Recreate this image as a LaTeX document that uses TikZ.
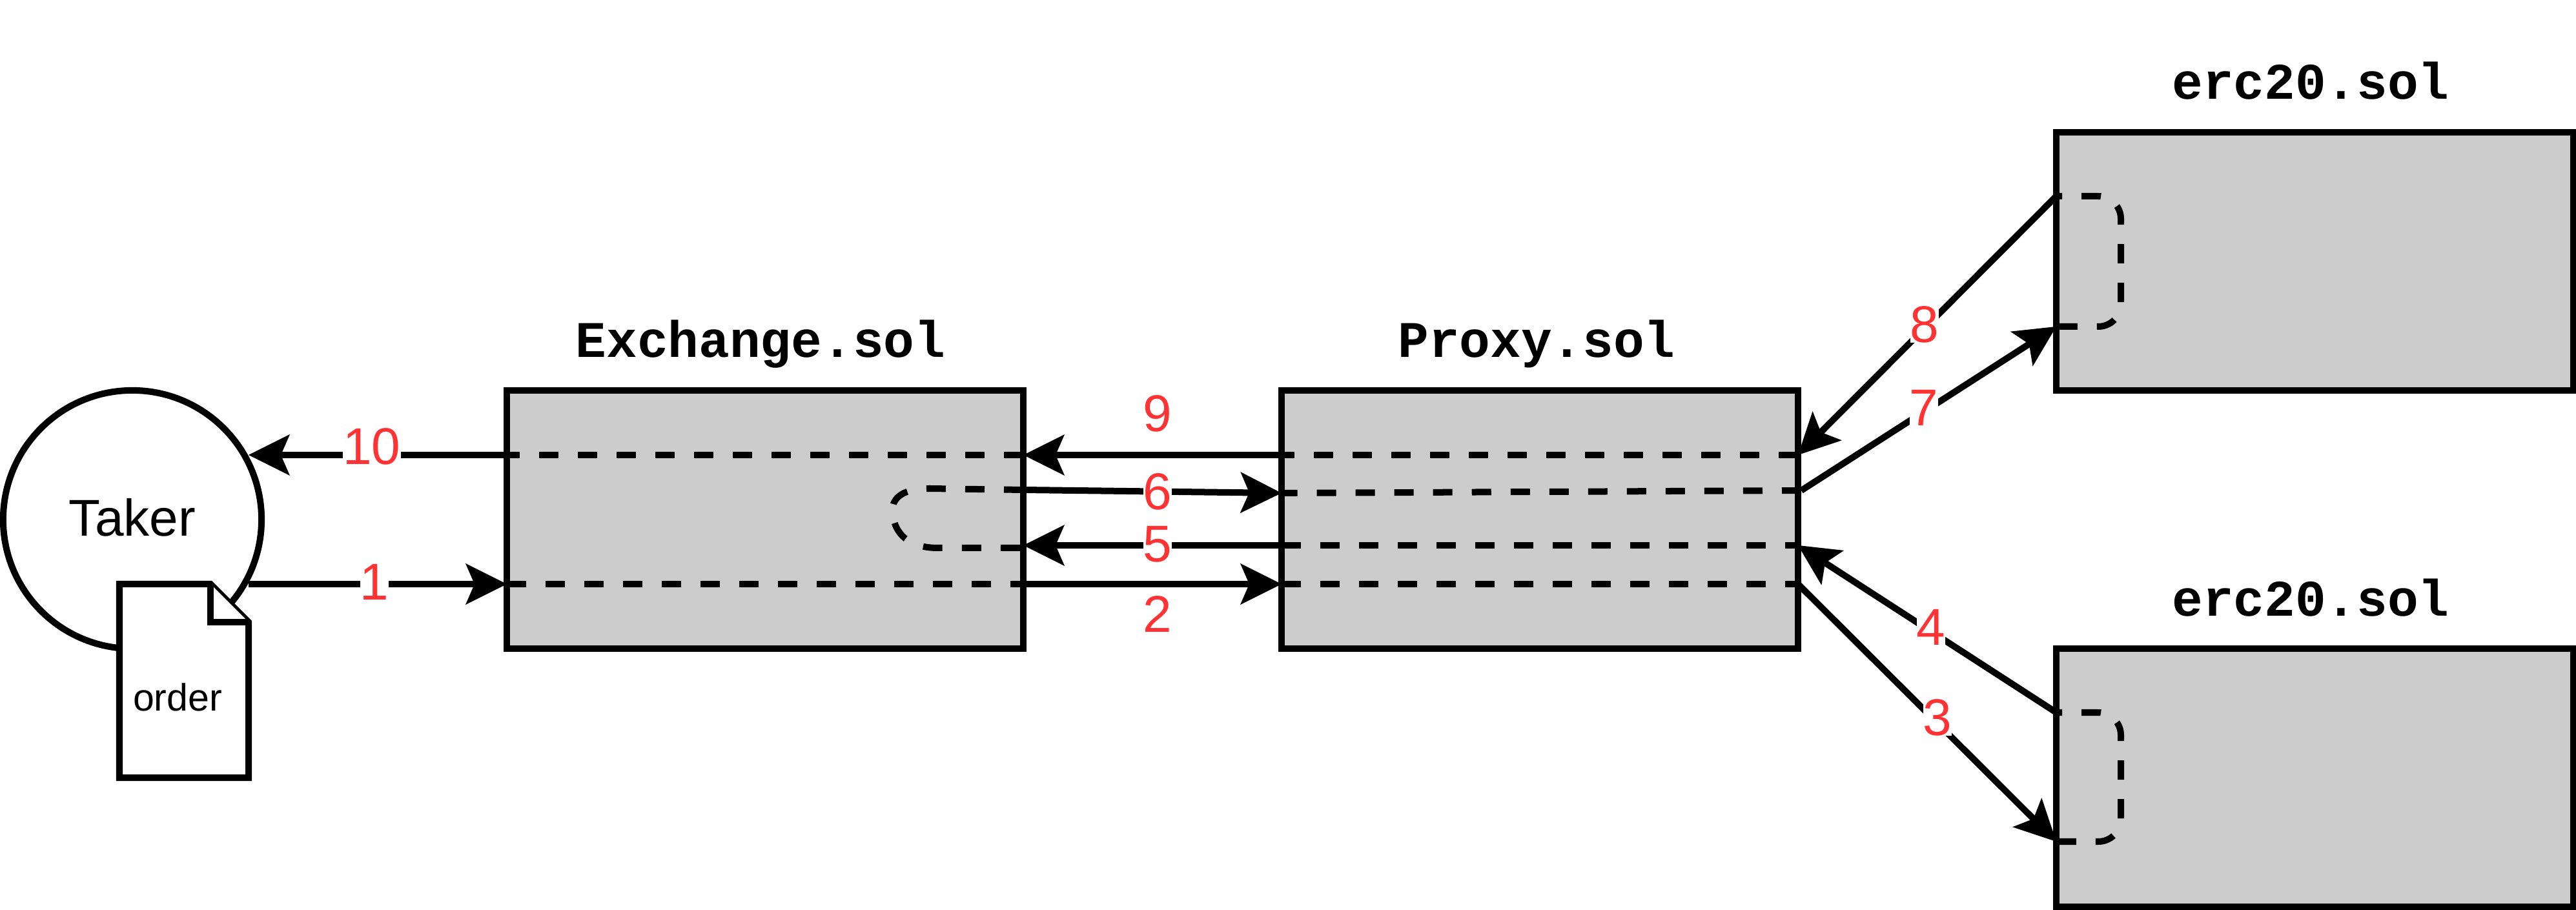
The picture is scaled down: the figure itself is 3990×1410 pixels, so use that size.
\documentclass[tikz,border=0pt]{standalone}
\usepackage{fontspec}
\setmainfont{Liberation Sans}
\newfontfamily\codefont{Liberation Mono}
\usepackage{tikz}
\usetikzlibrary{arrows.meta, positioning, calc}

\definecolor{contractgray}{HTML}{CCCCCC}
\definecolor{steplabel}{HTML}{FF3333}

\begin{document}
\begin{tikzpicture}[
    x=0.01cm, y=-0.01cm,
    line width=1mm,
    font=\fontsize{22.8}{27}\selectfont,
    contract/.style={rectangle, draw=black, fill=contractgray, minimum width=8cm, minimum height=4cm, inner sep=0pt, outer sep=0pt, anchor=north west},
    actor/.style={circle, draw=black, fill=white, minimum size=4cm, inner sep=0pt, outer sep=0pt},
    title/.style={font=\fontsize{22.6}{27}\selectfont\codefont\bfseries, inner sep=0pt, anchor=base},
    steplbl/.style={text=steplabel, fill=white, inner sep=0pt},
    arrow/.style={-{Stealth[length=6.4mm, width=6.4mm, inset=1.4mm, line width=0pt]}},
    inner/.style={dash pattern=on 3mm off 3mm},
    doc/.style={draw=black, fill=white, miter limit=10}
]
\useasboundingbox (0,0) rectangle (3990,1410);

\node[actor] (taker) at (205,805) {};
\node[inner sep=0pt] (takerlbl) at (205,802) {Taker};

\draw[doc] (185,905) -- (326,905) -- (385,964) -- (385,1205) -- (185,1205) -- cycle;
\draw[doc] (326,905) -- (326,964) -- (385,964);
\node[inner sep=0pt, font=\fontsize{16.8}{20}\selectfont] (order) at (275,1080) {order};

\node[contract] (exchange) at (785,605) {};
\node[contract] (proxy) at (1985,605) {};
\node[contract] (ercA) at (3185,205) {};
\node[contract] (ercB) at (3185,1005) {};

\node[title] (exchangelbl) at (1178,554) {Exchange.sol};
\node[title] (proxylbl) at (2380,554) {Proxy.sol};
\node[title] (ercAlbl) at (3579,154) {erc20.sol};
\node[title] (ercBlbl) at (3579,955) {erc20.sol};

\coordinate (takerout) at (385,905);
\coordinate (takerin) at (385,705);
\coordinate (exL1) at (785,905);
\coordinate (exL2) at (785,705);
\coordinate (exR1) at (1585,905);
\coordinate (exR2) at (1585,705);
\coordinate (exR3) at (1585,759);
\coordinate (exR4) at (1585,845);
\coordinate (exR5) at (1585,849);
\coordinate (prL1) at (1985,905);
\coordinate (prL2) at (1985,705);
\coordinate (prL3) at (1985,764);
\coordinate (prL4) at (1985,845);
\coordinate (prR1) at (2785,905);
\coordinate (prR2) at (2785,705);
\coordinate (prR3) at (2790,760);
\coordinate (prR4) at (2785,845);
\coordinate (ercAin) at (3185,506);
\coordinate (ercAout) at (3185,304);
\coordinate (ercBin) at (3185,1304);
\coordinate (ercBout) at (3185,1104);

\draw[inner] (exL1) -- (exR1);
\draw[inner] (exR2) -- (exL2);
\draw[inner] (exR3) -- (1440,757) .. controls (1400,757) and (1382,770) .. (1382,792) .. controls (1385,830) and (1410,848) .. (1450,849) -- (exR5);
\draw[inner] (prL1) -- (prR1);
\draw[inner] (prR2) -- (prL2);
\draw[inner] (prR3) -- (prL3);
\draw[inner] (prL4) -- (prR4);
\draw[inner, dash phase=2.1mm, rounded corners=3.5mm] (ercAout) -| (3285,405) |- (ercAin);
\draw[inner, dash phase=2.1mm, rounded corners=3.5mm] (ercBout) -| (3285,1205) |- (ercBin);

\draw[arrow] (takerout) -- (exL1);
\draw[arrow] (exR1) -- (prL1);
\draw[arrow] (prR1) -- (ercBin);
\draw[arrow] (ercBout) -- (prR4);
\draw[arrow] (prL4) -- (exR4);
\draw[arrow] (exR3) -- (prL3);
\draw[arrow] (prR3) -- (ercAin);
\draw[arrow] (ercAout) -- (prR2);
\draw[arrow] (prL2) -- (exR2);
\draw[arrow] (exL2) -- (takerin);

\node[steplbl] (one) at (580,902) {1};
\node[steplbl] (two) at (1793,952) {2};
\node[steplbl] (three) at (3001,1112) {3};
\node[steplbl] (four) at (2991,972) {4};
\node[steplbl] (five) at (1793,843) {5};
\node[steplbl] (six) at (1793,762) {6};
\node[steplbl] (seven) at (2980,632) {7};
\node[steplbl] (eight) at (2981,503) {8};
\node[steplbl] (nine) at (1793,641) {9};
\node[steplbl] (ten) at (576,692) {10};

\end{tikzpicture}
\end{document}
